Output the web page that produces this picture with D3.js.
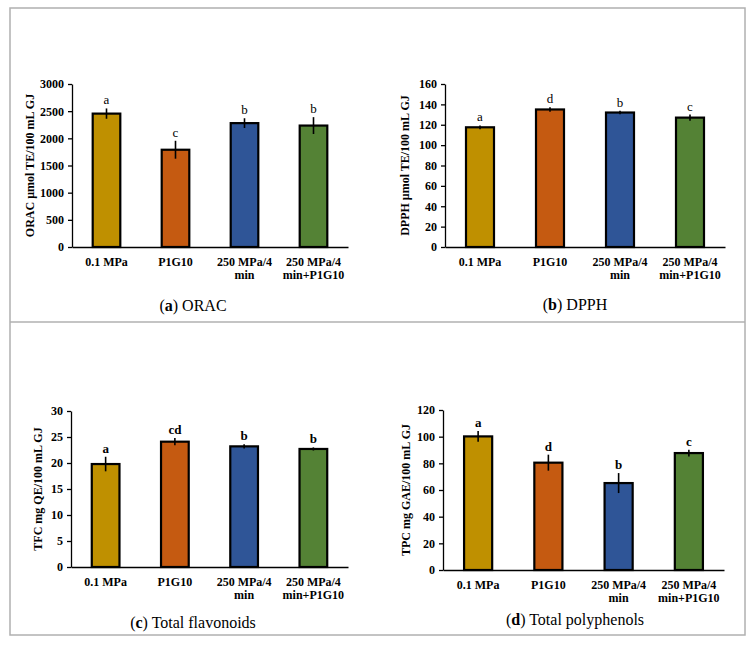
<!DOCTYPE html>
<html>
<head>
<meta charset="utf-8">
<script src="https://cdn.jsdelivr.net/npm/d3@7"></script>
<style>
  body { margin: 0; background: #fff; }
  svg text { font-family: 'Liberation Serif', 'Times New Roman', serif; fill: #000; }
</style>
</head>
<body>
<svg id="chart" width="754" height="645"></svg>
<script>
const categories = ['0.1 MPa', 'P1G10', '250 MPa/4 min', '250 MPa/4 min+P1G10']
const tickLines = [['0.1 MPa'], ['P1G10'], ['250 MPa/4', 'min'], ['250 MPa/4', 'min+P1G10']]
const barColors = ['#bf9000', '#c55a11', '#2f5597', '#548235']

const oracValues = [2455, 1790, 2280, 2235]
const oracErrors = [95, 165, 90, 155]
const oracLetters = ['a', 'c', 'b', 'b']

const dpphValues = [117.5, 135, 132, 127]
const dpphErrors = [1.8, 2.3, 1.7, 3]
const dpphLetters = ['a', 'd', 'b', 'c']

const tfcValues = [19.8, 24.1, 23.2, 22.7]
const tfcErrors = [1.4, 0.7, 0.4, 0.3]
const tfcLetters = ['a', 'cd', 'b', 'b']

const tpcValues = [100.2, 80.5, 65.2, 87.7]
const tpcErrors = [4, 6, 7.5, 2.5]
const tpcLetters = ['a', 'd', 'b', 'c']

const panels = [
  { values: oracValues, errors: oracErrors, letters: oracLetters, yMax: 3000, step: 500,
    yLabel: 'ORAC μmol TE/100 mL GJ', tag: 'a', caption: ' ORAC', boldLetters: false,
    x0: 72, x1: 348, yTop: 84, yBase: 247, labelX: 30, capX: 193, capY: 311 },
  { values: dpphValues, errors: dpphErrors, letters: dpphLetters, yMax: 160, step: 20,
    yLabel: 'DPPH μmol TE/100 mL GJ', tag: 'b', caption: ' DPPH', boldLetters: false,
    x0: 445, x1: 725, yTop: 84, yBase: 247, labelX: 405, capX: 575, capY: 310 },
  { values: tfcValues, errors: tfcErrors, letters: tfcLetters, yMax: 30, step: 5,
    yLabel: 'TFC mg QE/100 mL GJ', tag: 'c', caption: ' Total flavonoids', boldLetters: true,
    x0: 71, x1: 348, yTop: 411, yBase: 567, labelX: 38, capX: 193, capY: 628 },
  { values: tpcValues, errors: tpcErrors, letters: tpcLetters, yMax: 120, step: 20,
    yLabel: 'TPC mg GAE/100 mL GJ', tag: 'd', caption: ' Total polyphenols', boldLetters: true,
    x0: 443, x1: 724, yTop: 410, yBase: 570, labelX: 406, capX: 575, capY: 625 }
]

const serif = "'Liberation Serif', 'Times New Roman', serif"
const svg = d3.select('#chart')

// frame around the figure
svg.append('rect')
  .attr('x', 10).attr('y', 8)
  .attr('width', 735).attr('height', 627)
  .attr('fill', 'none')
  .attr('stroke', '#b0b0b0')
  .attr('stroke-width', 1.5)

svg.append('line')
  .attr('x1', 10).attr('x2', 745)
  .attr('y1', 322).attr('y2', 322)
  .attr('stroke', '#b0b0b0')
  .attr('stroke-width', 1.5)

panels.forEach(p => {
  const g = svg.append('g')

  const x = d3.scaleBand()
    .domain(categories)
    .range([p.x0, p.x1])
    .paddingInner(0.6)
    .paddingOuter(0.3)

  const y = d3.scaleLinear()
    .domain([0, p.yMax])
    .range([p.yBase, p.yTop])

  const yAxis = d3.axisLeft(y)
    .tickValues(d3.range(0, p.yMax + p.step / 2, p.step))
    .tickFormat(d3.format('d'))
    .tickSize(4)
    .tickPadding(4)
    .tickSizeOuter(0)

  const ya = g.append('g')
    .attr('transform', `translate(${p.x0},0)`)
    .attr('font-family', serif)
    .call(yAxis)
  ya.select('.domain').attr('stroke', '#000').attr('stroke-width', 1.3)
  ya.selectAll('.tick line').attr('stroke-width', 1.3)
  ya.selectAll('text')
    .style('font-family', serif)
    .style('font-size', '12px')
    .style('font-weight', 'bold')
    .attr('fill', '#000')

  const xAxis = d3.axisBottom(x).tickSize(0).tickFormat('')
  const xa = g.append('g')
    .attr('transform', `translate(0,${p.yBase})`)
    .call(xAxis)
  xa.select('.domain').attr('stroke', '#000').attr('stroke-width', 1.3)

  // category labels, two lines for the long ones
  categories.forEach((c, i) => {
    const t = g.append('text')
      .attr('x', x(c) + x.bandwidth() / 2)
      .attr('y', p.yBase + 19)
      .attr('text-anchor', 'middle')
      .style('font-family', serif)
      .style('font-size', '12px')
      .style('font-weight', 'bold')
    tickLines[i].forEach((line, j) => {
      t.append('tspan')
        .attr('x', x(c) + x.bandwidth() / 2)
        .attr('dy', j === 0 ? 0 : 13)
        .text(line)
    })
  })

  g.selectAll('rect.bar')
    .data(p.values)
    .enter()
    .append('rect')
    .attr('class', 'bar')
    .attr('x', (d, i) => x(categories[i]))
    .attr('y', d => y(d))
    .attr('width', x.bandwidth())
    .attr('height', d => y(0) - y(d))
    .attr('fill', (d, i) => barColors[i])
    .attr('stroke', '#000')
    .attr('stroke-width', 2.2)

  g.selectAll('line.err')
    .data(p.values)
    .enter()
    .append('line')
    .attr('class', 'err')
    .attr('x1', (d, i) => x(categories[i]) + x.bandwidth() / 2)
    .attr('x2', (d, i) => x(categories[i]) + x.bandwidth() / 2)
    .attr('y1', (d, i) => y(d - p.errors[i]))
    .attr('y2', (d, i) => y(d + p.errors[i]))
    .attr('stroke', '#000')
    .attr('stroke-width', 1.6)

  g.selectAll('text.sig')
    .data(p.values)
    .enter()
    .append('text')
    .attr('class', 'sig')
    .attr('x', (d, i) => x(categories[i]) + x.bandwidth() / 2)
    .attr('y', (d, i) => y(d + p.errors[i]) - 4)
    .attr('text-anchor', 'middle')
    .style('font-family', serif)
    .style('font-size', '13px')
    .style('font-weight', p.boldLetters ? 'bold' : 'normal')
    .text((d, i) => p.letters[i])

  g.append('text')
    .attr('transform', `translate(${p.labelX},${(p.yTop + p.yBase) / 2}) rotate(-90)`)
    .attr('text-anchor', 'middle')
    .attr('dy', '0.35em')
    .style('font-family', serif)
    .style('font-size', '12px')
    .style('font-weight', 'bold')
    .text(p.yLabel)

  const cap = g.append('text')
    .attr('x', p.capX)
    .attr('y', p.capY)
    .attr('text-anchor', 'middle')
    .style('font-family', serif)
    .style('font-size', '16px')
  cap.append('tspan').text('(')
  cap.append('tspan').style('font-weight', 'bold').text(p.tag)
  cap.append('tspan').text(')' + p.caption)
})
</script>
</body>
</html>
